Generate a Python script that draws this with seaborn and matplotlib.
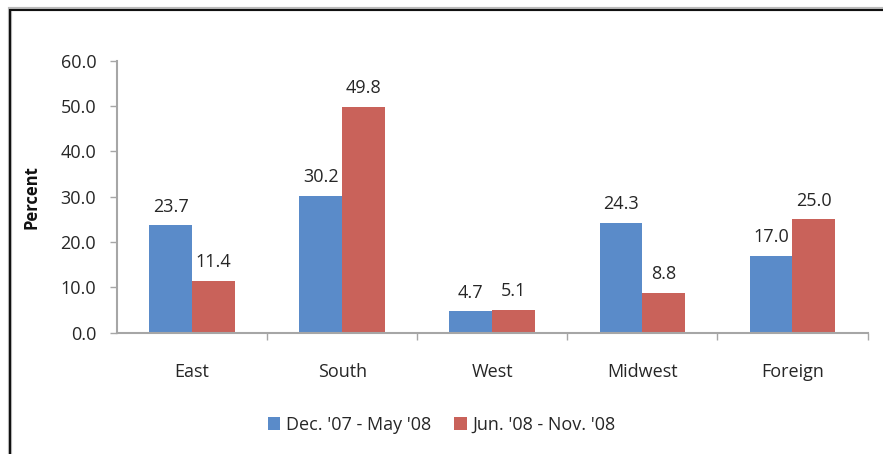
import matplotlib.pyplot as plt
import seaborn as sns
import pandas as pd
from matplotlib.patches import Rectangle

# Data
regions = ["East", "South", "West", "Midwest", "Foreign"]
period_1 = [23.7, 30.2, 4.7, 24.3, 17.0]
period_2 = [11.4, 49.8, 5.1, 8.8, 25.0]
periods = ["Dec. '07 - May '08", "Jun. '08 - Nov. '08"]
colors = ["#5A8BC9", "#C9625A"]

df = pd.DataFrame({
    "region": regions * 2,
    "value": period_1 + period_2,
    "period": [periods[0]] * len(regions) + [periods[1]] * len(regions),
})

sns.set_style("white")
plt.rcParams["font.family"] = ["Open Sans", "DejaVu Sans"]
txt = "#262626"
grey = "#A6A6A6"

fig = plt.figure(figsize=(8.83, 4.54), dpi=100)
ax = fig.add_axes([0.1325, 0.267, 0.85, 0.599])

sns.barplot(data=df, x="region", y="value", hue="period", palette=colors,
            width=0.57, saturation=1, linewidth=0, ax=ax)

for cont in ax.containers:
    ax.bar_label(cont, fmt="%.1f", padding=7, fontsize=13, color=txt)

ax.set_ylim(0, 60)
ax.set_xlim(-0.5, len(regions) - 0.5)
ax.set_yticks(range(0, 61, 10))
ax.set_yticklabels([f"{v:.1f}" for v in range(0, 61, 10)], fontsize=13, color=txt)
ax.tick_params(axis="y", left=True, length=5, width=1, color=grey, pad=10)

ax.set_xticks(range(len(regions)))
ax.set_xticklabels(regions, fontsize=13, color=txt)
ax.tick_params(axis="x", which="major", length=0, pad=22)
ax.set_xticks([i + 0.5 for i in range(len(regions))], minor=True)
ax.tick_params(axis="x", which="minor", bottom=True, length=5, width=1, color=grey)

for side in ["top", "right"]:
    ax.spines[side].set_visible(False)
for side in ["left", "bottom"]:
    ax.spines[side].set_color(grey)
    ax.spines[side].set_linewidth(1.5)

ax.set_xlabel("")
ax.set_ylabel("Percent", fontsize=12, fontweight="bold", labelpad=14, color="#111111")

ax.legend(loc="center", bbox_to_anchor=(0.5, 0.064), bbox_transform=fig.transFigure,
          ncol=2, frameon=False, fontsize=13, handlelength=0.7, handleheight=0.7,
          handletextpad=0.3, columnspacing=1.3, labelcolor=txt)

# outer frame like the screenshot border
fig.patches.append(Rectangle((0.011, -0.01), 1.2, 0.99, transform=fig.transFigure,
                             fill=False, edgecolor="#BBBBBB", linewidth=3, zorder=0))
fig.patches.append(Rectangle((0.011, -0.01), 1.2, 0.988, transform=fig.transFigure,
                             fill=False, edgecolor="#111111", linewidth=1.5, zorder=1))

fig.savefig("out.png", dpi=100)
